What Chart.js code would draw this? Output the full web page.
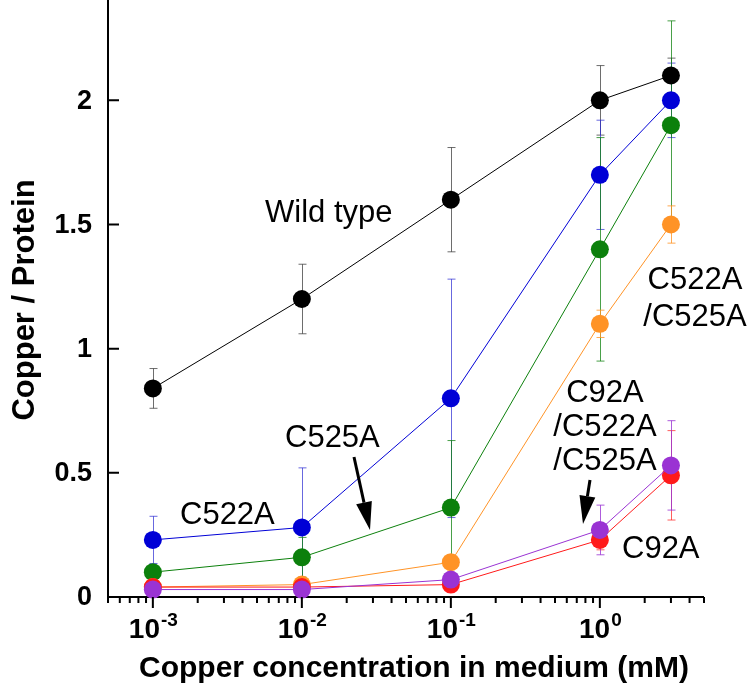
<!DOCTYPE html>
<html>
<head>
<meta charset="utf-8">
<script src="https://cdn.jsdelivr.net/npm/chart.js@4"></script>
<style>
  html, body { margin: 0; padding: 0; background: #fff; }
  #wrap { width: 750px; height: 685px; }
</style>
</head>
<body>
<div id="wrap"><canvas id="chart" width="750" height="685"></canvas></div>
<script>
// ---------------- data ----------------
const concentrations = [0.001, 0.01, 0.1, 1, 3];

const wildType = [0.84, 1.2, 1.6, 2.0, 2.1];
const wildTypeErr = [0.08, 0.14, 0.21, 0.14, 0.07];

const c522a = [0.23, 0.28, 0.8, 1.7, 2.0];
const c522aErr = [0.095, 0.24, 0.48, 0.22, 0.15];

const c525a = [0.1, 0.16, 0.36, 1.4, 1.9];
const c525aErr = [0.02, 0.08, 0.27, 0.45, 0.42];

const c522aC525a = [0.04, 0.05, 0.14, 1.1, 1.5];
const c522aC525aErr = [0.01, 0.01, 0.02, 0.055, 0.075];

const c92a = [0.04, 0.04, 0.05, 0.23, 0.49];
const c92aErr = [0.01, 0.01, 0.01, 0.04, 0.18];

const c92aTriple = [0.03, 0.03, 0.07, 0.27, 0.53];
const c92aTripleErr = [0.01, 0.01, 0.01, 0.1, 0.18];

const yTicks = [0, 0.5, 1, 1.5, 2];
const xMajorTicks = [0.001, 0.01, 0.1, 1];
const xMinorTicks = [0.0005, 0.0006, 0.0007, 0.0008, 0.0009,
  0.002, 0.003, 0.004, 0.005, 0.006, 0.007, 0.008, 0.009,
  0.02, 0.03, 0.04, 0.05, 0.06, 0.07, 0.08, 0.09,
  0.2, 0.3, 0.4, 0.5, 0.6, 0.7, 0.8, 0.9,
  2, 3, 4, 5];
const xTickExponents = ["-3", "-2", "-1", "0"];

const FONT = "'Liberation Sans', Arial, Helvetica, sans-serif";

// ---------------- datasets ----------------
function makeSeries(values, errors, color, errColor) {
  return {
    data: values.map((v, i) => ({ x: concentrations[i], y: v })),
    errors: errors,
    errColor: errColor,
    borderColor: color,
    backgroundColor: color,
    borderWidth: 1,
    pointRadius: 9,
    pointBorderWidth: 0,
    pointBackgroundColor: color,
    tension: 0,
    clip: false,
  };
}

// dataset 0 is drawn on top
const datasets = [
  makeSeries(c92aTriple, c92aTripleErr, "#9a33d3", "rgba(154,51,211,0.8)"),
  makeSeries(c92a, c92aErr, "#ff1a1a", "rgba(255,26,26,0.7)"),
  makeSeries(c522aC525a, c522aC525aErr, "#ff9326", "rgba(255,147,38,0.8)"),
  makeSeries(c525a, c525aErr, "#0c800c", "rgba(12,128,12,0.75)"),
  makeSeries(c522a, c522aErr, "#0000d6", "rgba(40,40,210,0.7)"),
  makeSeries(wildType, wildTypeErr, "#000000", "rgba(60,60,60,0.75)"),
];

// ---------------- error bars ----------------
const errorBars = {
  id: "errorBars",
  beforeDatasetsDraw(chart) {
    const ctx = chart.ctx;
    const xs = chart.scales.x;
    const ys = chart.scales.y;
    ctx.save();
    ctx.lineWidth = 1;
    for (let d = chart.data.datasets.length - 1; d >= 0; d--) {
      const ds = chart.data.datasets[d];
      ctx.strokeStyle = ds.errColor;
      ds.data.forEach((p, i) => {
        const px = Math.round(xs.getPixelForValue(p.x)) + 0.5;
        const top = ys.getPixelForValue(p.y + ds.errors[i]);
        const bot = ys.getPixelForValue(p.y - ds.errors[i]);
        ctx.beginPath();
        ctx.moveTo(px, top);
        ctx.lineTo(px, bot);
        ctx.moveTo(px - 4, top);
        ctx.lineTo(px + 4, top);
        ctx.moveTo(px - 4, bot);
        ctx.lineTo(px + 4, bot);
        ctx.stroke();
      });
    }
    ctx.restore();
  },
};

// ---------------- axes, tick marks, labels ----------------
function arrow(ctx, x1, y1, x2, y2) {
  const ang = Math.atan2(y2 - y1, x2 - x1);
  const headLen = 28;
  const headHalf = 8;
  const bx = x2 - headLen * Math.cos(ang);
  const by = y2 - headLen * Math.sin(ang);
  ctx.beginPath();
  ctx.moveTo(x1, y1);
  ctx.lineTo(bx, by);
  ctx.lineWidth = 3;
  ctx.stroke();
  ctx.beginPath();
  ctx.moveTo(x2, y2);
  ctx.lineTo(bx + headHalf * Math.sin(ang), by - headHalf * Math.cos(ang));
  ctx.lineTo(bx - headHalf * Math.sin(ang), by + headHalf * Math.cos(ang));
  ctx.closePath();
  ctx.fill();
}

function label(ctx, lines, x, y, lineGap) {
  lines.forEach((t, i) => ctx.fillText(t, x, y + i * lineGap));
}

const decor = {
  id: "decor",
  beforeDatasetsDraw(chart) {
    // axis lines
    const ctx = chart.ctx;
    const area = chart.chartArea;
    ctx.save();
    ctx.strokeStyle = "#000";
    ctx.lineWidth = 2;
    ctx.beginPath();
    ctx.moveTo(area.left, 0);
    ctx.lineTo(area.left, area.bottom);
    ctx.lineTo(area.right, area.bottom);
    ctx.stroke();
    ctx.restore();
  },
  afterDraw(chart) {
    const ctx = chart.ctx;
    const xs = chart.scales.x;
    const ys = chart.scales.y;
    const area = chart.chartArea;
    ctx.save();
    ctx.strokeStyle = "#000";
    ctx.fillStyle = "#000";
    ctx.lineWidth = 2;

    // x tick marks (outside)
    ctx.beginPath();
    xMinorTicks.forEach((v) => {
      const px = xs.getPixelForValue(v);
      ctx.moveTo(px, area.bottom);
      ctx.lineTo(px, area.bottom + 6);
    });
    xMajorTicks.forEach((v) => {
      const px = xs.getPixelForValue(v);
      ctx.moveTo(px, area.bottom);
      ctx.lineTo(px, area.bottom + 11);
    });
    // y tick marks (inside)
    yTicks.forEach((v) => {
      const py = ys.getPixelForValue(v);
      ctx.moveTo(area.left, py);
      ctx.lineTo(area.left + 11, py);
    });
    ctx.stroke();

    // y tick labels
    ctx.font = "bold 27px " + FONT;
    ctx.textAlign = "right";
    ctx.textBaseline = "middle";
    yTicks.forEach((v) => {
      ctx.fillText(String(v), 92, ys.getPixelForValue(v) + 1);
    });

    // x tick labels 10^n
    ctx.textAlign = "left";
    ctx.textBaseline = "alphabetic";
    xMajorTicks.forEach((v, i) => {
      const px = xs.getPixelForValue(v);
      ctx.font = "bold 28px " + FONT;
      const wBase = ctx.measureText("10").width;
      ctx.font = "bold 19px " + FONT;
      const wExp = ctx.measureText(xTickExponents[i]).width;
      const x0 = px - (wBase + wExp) / 2;
      ctx.font = "bold 28px " + FONT;
      ctx.fillText("10", x0, 638);
      ctx.font = "bold 19px " + FONT;
      ctx.fillText(xTickExponents[i], x0 + wBase + 1, 626);
    });

    // axis titles
    ctx.font = "bold 30px " + FONT;
    ctx.textAlign = "center";
    ctx.fillText("Copper concentration in medium (mM)", 414, 677);
    ctx.save();
    ctx.font = "bold 31px " + FONT;
    ctx.translate(34, 300);
    ctx.rotate(-Math.PI / 2);
    ctx.fillText("Copper / Protein", 0, 0);
    ctx.restore();

    // series labels
    ctx.font = "31px " + FONT;
    ctx.textAlign = "left";
    ctx.fillText("Wild type", 265, 222);
    ctx.fillText("C522A", 180, 524);
    ctx.fillText("C525A", 285, 447);
    ctx.fillText("C92A", 622, 558);
    ctx.textAlign = "center";
    label(ctx, ["C522A", "/C525A"], 695, 289, 37);
    label(ctx, ["C92A", "/C522A", "/C525A"], 605, 402, 34);

    // arrows
    arrow(ctx, 354, 457, 370, 530);
    arrow(ctx, 590, 480, 583, 524);

    ctx.restore();
  },
};

// ---------------- chart ----------------
const chartCtx = document.getElementById("chart").getContext("2d");
new Chart(chartCtx, {
  type: "line",
  data: { datasets: datasets },
  options: {
    responsive: false,
    animation: false,
    devicePixelRatio: 1,
    layout: { autoPadding: false, padding: { left: 108, right: 46, top: 1, bottom: 88 } },
    plugins: {
      legend: { display: false },
      tooltip: { enabled: false },
    },
    scales: {
      x: { type: "logarithmic", display: false, min: 0.0005, max: 5 },
      y: { type: "linear", display: false, min: 0, max: 2.4 },
    },
  },
  plugins: [errorBars, decor],
});
</script>
</body>
</html>
